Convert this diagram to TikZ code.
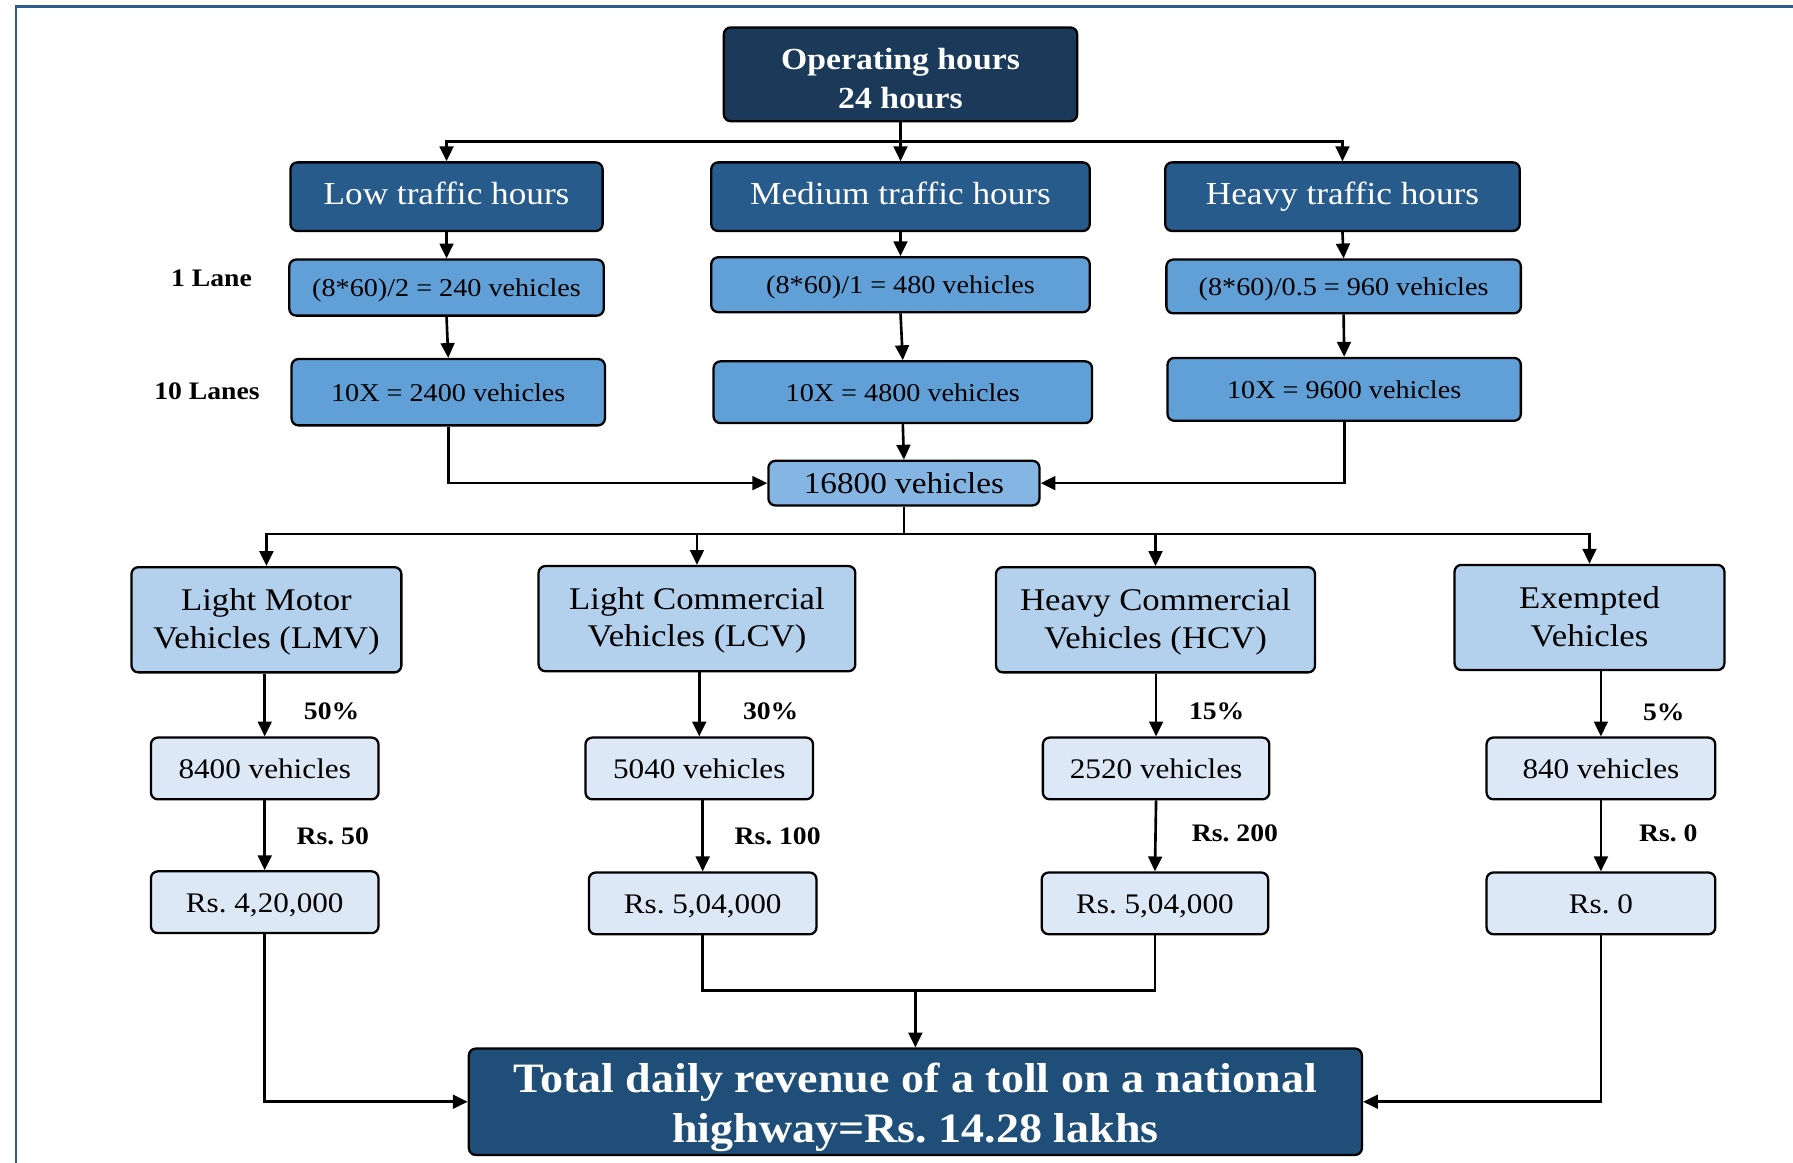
\documentclass[tikz,border=0pt]{standalone}
\usepackage{fontspec}
\setmainfont{Liberation Serif}[FakeStretch=1.1]
\usetikzlibrary{arrows.meta}
\frenchspacing

\definecolor{framec}{HTML}{2C5B8C}
\definecolor{opfill}{HTML}{1B3A5A}
\definecolor{hourfill}{HTML}{275B8C}
\definecolor{calcfill}{HTML}{619FD7}
\definecolor{sumfill}{HTML}{85B6E3}
\definecolor{catfill}{HTML}{B3D1EC}
\definecolor{cntfill}{HTML}{DCE8F5}
\definecolor{finalfill}{HTML}{1F4E79}

% struts for the first and last line of two-line boxes
\newcommand\firstln[1][0pt]{\rule{0pt}{\dimexpr0.7em+#1\relax}}
\newcommand\lastln{\rule[-0.25em]{0pt}{0.25em}}

\begin{document}
\begin{tikzpicture}[x=0.5pt,y=-0.5pt,
  wh/.style 2 args={minimum width=#1*0.5pt, minimum height=#2*0.5pt},
  box/.style={draw=black, line width=1pt, rounded corners=3pt, inner sep=0pt, align=center},
  opbox/.style={box, fill=opfill, text=white, font=\fontsize{13.4}{17}\selectfont\bfseries},
  hourbox/.style={box, text height=9.8pt, text depth=3.1pt, fill=hourfill, text=white, font=\fontsize{14}{17}\selectfont},
  calcbox/.style={box, text height=7.8pt, text depth=0pt, fill=calcfill, font=\fontsize{11.2}{14}\selectfont},
  sumbox/.style={box, text height=9.1pt, text depth=0pt, fill=sumfill, font=\fontsize{13.2}{16}\selectfont},
  catbox/.style={box, fill=catfill, font=\fontsize{13.8}{16.5}\selectfont},
  cntbox/.style={box, text height=8.6pt, text depth=0pt, fill=cntfill, font=\fontsize{12.4}{15}\selectfont},
  finalbox/.style={box, fill=finalfill, text=white, font=\fontsize{18.3}{22}\selectfont\bfseries},
  lbl/.style={inner sep=0pt, font=\fontsize{11}{13}\selectfont\bfseries},
  conn/.style={draw=black, line width=1.15pt},
  arr/.style={conn, -{Triangle[length=6.5pt,width=6pt]}}
]
\useasboundingbox (0,0) rectangle (1568,1017);

% outer frame, running off the right and bottom edges
\draw[framec, line width=1.3pt] (14,6) rectangle (1620,1060);

% operating hours and the three traffic bands
\node[opbox, wh={309}{82}] (op) at (787.5,65) {\firstln[6.5pt]Operating hours\\24 hours\lastln};

\node[hourbox, wh={273}{60}] (low)  at (390.5,172) {Low traffic hours};
\node[hourbox, wh={331}{60}] (med)  at (787.5,172) {Medium traffic hours};
\node[hourbox, wh={310}{60}] (high) at (1174,172)  {Heavy traffic hours};

\node[calcbox, wh={275}{49}] (low1)  at (390.5,251.5) {(8*60)/2 = 240 vehicles};
\node[calcbox, wh={331}{48}] (med1)  at (787.5,249)   {(8*60)/1 = 480 vehicles};
\node[calcbox, wh={310}{47}] (high1) at (1175,250.5)  {(8*60)/0.5 = 960 vehicles};

\node[calcbox, wh={274}{58}] (low10)  at (392,343)    {10X = 2400 vehicles};
\node[calcbox, wh={331}{54}] (med10)  at (789.5,343)  {10X = 4800 vehicles};
\node[calcbox, wh={309}{55}] (high10) at (1175.5,340.5) {10X = 9600 vehicles};

\node[lbl] (lane1)  at (185,243) {1 Lane};
\node[lbl] (lane10) at (181,342) {10 Lanes};

\node[sumbox, wh={237}{39}] (total) at (790.5,422.5) {16800 vehicles};

% vehicle classes
\node[catbox, wh={236}{92}] (lmv) at (233,542)    {\firstln[2pt]Light Motor\\Vehicles (LMV)\lastln};
\node[catbox, wh={277}{92}] (lcv) at (609.5,541)  {\firstln[2pt]Light Commercial\\Vehicles (LCV)\lastln};
\node[catbox, wh={279}{92}] (hcv) at (1010.5,542) {\firstln[2pt]Heavy Commercial\\Vehicles (HCV)\lastln};
\node[catbox, wh={236}{92}] (exv) at (1390,540)   {\firstln[2.5pt]Exempted\\Vehicles\lastln};

\node[cntbox, wh={199}{54}] (nlmv) at (231.5,672) {8400 vehicles};
\node[cntbox, wh={199}{54}] (nlcv) at (611.5,672) {5040 vehicles};
\node[cntbox, wh={198}{54}] (nhcv) at (1011,672)  {2520 vehicles};
\node[cntbox, wh={200}{54}] (nexv) at (1400,672)  {840 vehicles};

\node[cntbox, wh={199}{54}] (rlmv) at (231.5,789) {Rs. 4,20,000};
\node[cntbox, wh={199}{54}] (rlcv) at (614.5,790) {Rs. 5,04,000};
\node[cntbox, wh={198}{54}] (rhcv) at (1010,790)  {Rs. 5,04,000};
\node[cntbox, wh={200}{54}] (rexv) at (1400,790)  {Rs. 0};

\node[lbl] (p1) at (290,622)  {50\%};
\node[lbl] (p2) at (674,622)  {30\%};
\node[lbl] (p3) at (1064,622) {15\%};
\node[lbl] (p4) at (1455,623) {5\%};

\node[lbl] (t1) at (291,731)  {Rs. 50};
\node[lbl] (t2) at (680,731)  {Rs. 100};
\node[lbl] (t3) at (1080,729) {Rs. 200};
\node[lbl] (t4) at (1459,729) {Rs. 0};

\node[finalbox, wh={781}{93}] (final) at (800.5,963.5)
  {\firstln[5.5pt]Total daily revenue of a toll on a national\\highway=Rs. 14.28 lakhs\lastln};

% connectors
\coordinate (busA) at (787.5,124);
\draw[conn] (op.south) -- (busA);
\draw[arr] (busA) -| (low.north);
\draw[arr] (busA) -- (med.north);
\draw[arr] (busA) -| (high.north);

\draw[arr] (low.south) -- (low1.north);
\draw[arr] (med.south) -- (med1.north);
\draw[arr] (high.south) -- (high1.north);

\draw[arr] (low1.south) -- (low10.north);
\draw[arr] (med1.south) -- (med10.north);
\draw[arr] (high1.south) -- (high10.north);

\draw[arr] (low10.south) |- (total.west);
\draw[arr] (med10.south) -- (total.north);
\draw[arr] (high10.south) |- (total.east);

\coordinate (busB) at (790.5,467);
\draw[conn] (total.south) -- (busB);
\draw[arr] (busB) -| (lmv.north);
\draw[arr] (busB) -| (lcv.north);
\draw[arr] (busB) -| (hcv.north);
\draw[arr] (busB) -| (exv.north);

\draw[arr] (lmv.south -| nlmv.north) -- (nlmv.north);
\draw[arr] (lcv.south -| nlcv.north) -- (nlcv.north);
\draw[arr] (hcv.south -| nhcv.north) -- (nhcv.north);
\draw[arr] (exv.south -| nexv.north) -- (nexv.north);

\draw[arr] (nlmv.south) -- (rlmv.north);
\draw[arr] (nlcv.south -| rlcv.north) -- (rlcv.north);
\draw[arr] (nhcv.south) -- (rhcv.north);
\draw[arr] (nexv.south) -- (rexv.north);

\coordinate (join) at (800.5,866);
\draw[conn] (rlcv.south) |- (join);
\draw[conn] (rhcv.south) |- (join);
\draw[arr] (join) -- (final.north);
\draw[arr] (rlmv.south) |- (final.west);
\draw[arr] (rexv.south) |- (final.east);

\end{tikzpicture}
\end{document}
